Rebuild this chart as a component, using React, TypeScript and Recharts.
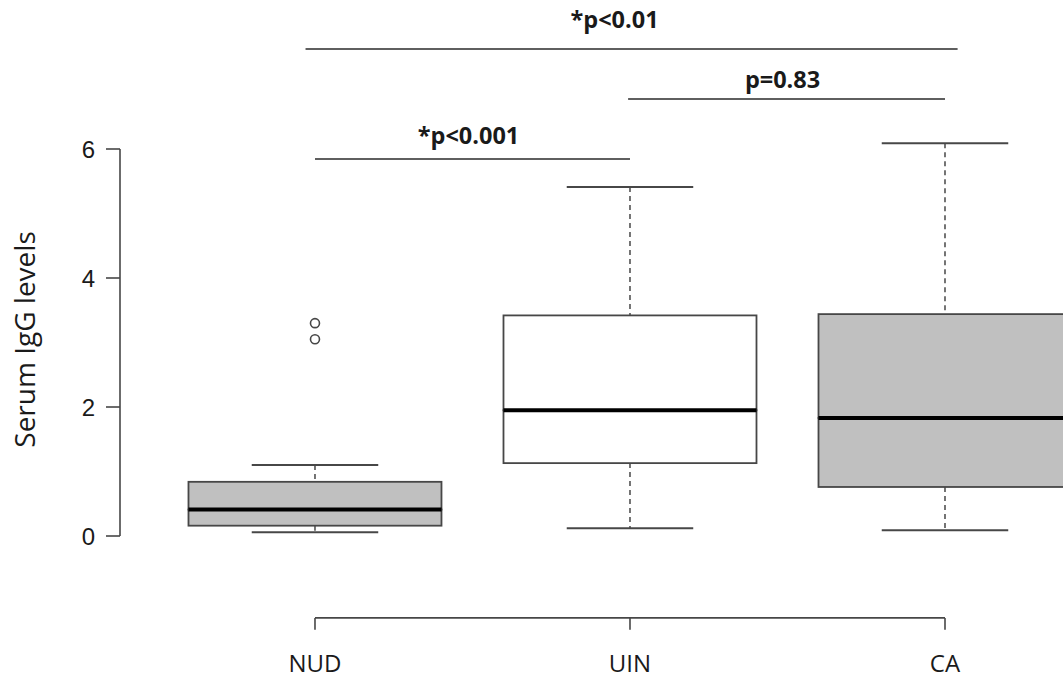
import { ComposedChart, Bar, Scatter, XAxis, YAxis, ReferenceLine } from 'recharts'

// groups and box statistics
const groups = ['NUD', 'UIN', 'CA']
const groupX = [1, 2, 3]
const lowWhisker = [0.06, 0.12, 0.09]
const q1 = [0.16, 1.13, 0.76]
const median = [0.41, 1.95, 1.83]
const q3 = [0.84, 3.42, 3.44]
const highWhisker = [1.1, 5.41, 6.09]
const boxFills = ['#c0c0c0', '#ffffff', '#c0c0c0']

// outliers
const outlierX = [1, 1]
const outlierY = [3.3, 3.05]

const yTicks = [0, 2, 4, 6]

// significance bars
const sigText = ['*p<0.01', 'p=0.83', '*p<0.001']
const sigFrom = [0.97, 1.994, 1.0]
const sigTo = [3.04, 3.0, 2.0]
const sigLevel = [7.55, 6.775, 5.845]

// axis geometry in data units
const X_MIN = 0.381
const X_MAX = 3.3746
const Y_MIN = -2.217
const Y_MAX = 8.31
const X_AXIS_LEVEL = -1.27
const X_TICK_END = -1.455

const STROKE = '#474747'
const TEXT = '#1a1a1a'

const boxData = groups.map((name, i) => ({
  name,
  x: groupX[i],
  base: lowWhisker[i],
  lowerWhisker: q1[i] - lowWhisker[i],
  lowerBox: median[i] - q1[i],
  upperBox: q3[i] - median[i],
  upperWhisker: highWhisker[i] - q3[i],
  boxFill: boxFills[i],
}))

const outlierData = outlierX.map((x, i) => ({ x, y: outlierY[i] }))

const Empty = () => <g />

const whiskerShape = (upper: boolean) => (props: any) => {
  const { x, y, width, height } = props
  const cx = x + width / 2
  const capY = upper ? y : y + height
  const capHalf = width / 4
  return (
    <g>
      <line x1={cx} x2={cx} y1={y} y2={y + height} stroke={STROKE} strokeWidth={1.5} strokeDasharray="5 4" />
      <line x1={cx - capHalf} x2={cx + capHalf} y1={capY} y2={capY} stroke={STROKE} strokeWidth={2} />
    </g>
  )
}

const LowerBox = (props: any) => {
  const { x, y, width, height, payload } = props
  return <rect x={x} y={y} width={width} height={height} fill={payload.boxFill} stroke={STROKE} strokeWidth={1.8} />
}

const UpperBox = (props: any) => {
  const { x, y, width, height, payload } = props
  return (
    <g>
      <rect x={x} y={y} width={width} height={height} fill={payload.boxFill} stroke={STROKE} strokeWidth={1.8} />
      <line x1={x} x2={x + width} y1={y + height} y2={y + height} stroke="#000" strokeWidth={4} />
    </g>
  )
}

const Outlier = (props: any) => (
  <circle cx={props.cx} cy={props.cy} r={4.5} fill="none" stroke={STROKE} strokeWidth={1.6} />
)

const GroupLabel = (props: any) => {
  const { viewBox, text } = props
  return (
    <text
      x={viewBox.x}
      y={viewBox.y + viewBox.height + 42}
      textAnchor="middle"
      fontFamily="Open Sans"
      fontSize={24}
      fill={TEXT}
    >
      {text}
    </text>
  )
}

const YLabel = (props: any) => {
  const { viewBox } = props
  const cy = viewBox.y + viewBox.height / 2
  return (
    <text
      x={24}
      y={cy}
      transform={`rotate(-90, 24, ${cy})`}
      textAnchor="middle"
      dominantBaseline="central"
      fontFamily="Open Sans"
      fontSize={28}
      fill={TEXT}
    >
      Serum IgG levels
    </text>
  )
}

const SigLabel = (props: any) => {
  const { viewBox, text, dx, gap } = props
  return (
    <text
      x={viewBox.x + viewBox.width / 2 + dx}
      y={viewBox.y - gap}
      textAnchor="middle"
      fontFamily="Open Sans"
      fontWeight={700}
      fontSize={23.5}
      fill={TEXT}
    >
      {text}
    </text>
  )
}

const sigDx = [-17, -4, -4]
const sigGap = [21, 11, 15]

export default function App() {
  return (
    <div style={{ position: 'absolute', left: 0, top: 0, width: 1063, height: 679, overflow: 'hidden', background: '#fff' }}>
      <ComposedChart width={1063} height={679} data={boxData} margin={{ top: 0, right: 0, bottom: 0, left: 0 }}>
        <XAxis dataKey="x" type="number" domain={[X_MIN, X_MAX]} allowDataOverflow ticks={groupX} hide />
        <YAxis
          type="number"
          domain={[Y_MIN, Y_MAX]}
          allowDataOverflow
          ticks={yTicks}
          width={120}
          axisLine={false}
          tickSize={14}
          tickMargin={11}
          tickLine={{ stroke: STROKE, strokeWidth: 1.6 }}
          tick={{ fontSize: 24, fill: TEXT, fontFamily: 'Liberation Sans' }}
          label={<YLabel />}
        />
        <Bar dataKey="base" stackId="box" barSize={253} shape={Empty} isAnimationActive={false} />
        <Bar dataKey="lowerWhisker" stackId="box" barSize={253} shape={whiskerShape(false)} isAnimationActive={false} />
        <Bar dataKey="lowerBox" stackId="box" barSize={253} shape={LowerBox} isAnimationActive={false} />
        <Bar dataKey="upperBox" stackId="box" barSize={253} shape={UpperBox} isAnimationActive={false} />
        <Bar dataKey="upperWhisker" stackId="box" barSize={253} shape={whiskerShape(true)} isAnimationActive={false} />
        <Scatter data={outlierData} dataKey="y" shape={Outlier} isAnimationActive={false} />
        {/* y axis line, R style: only over the tick range */}
        <ReferenceLine
          segment={[{ x: X_MIN, y: yTicks[0] }, { x: X_MIN, y: yTicks[yTicks.length - 1] }]}
          stroke={STROKE}
          strokeWidth={1.6}
          ifOverflow="visible"
        />
        {/* x axis line, ticks and group names */}
        <ReferenceLine
          segment={[{ x: groupX[0], y: X_AXIS_LEVEL }, { x: groupX[groupX.length - 1], y: X_AXIS_LEVEL }]}
          stroke={STROKE}
          strokeWidth={1.6}
          ifOverflow="visible"
        />
        {groupX.map((g, i) => (
          <ReferenceLine
            key={`xt-${g}`}
            segment={[{ x: g, y: X_AXIS_LEVEL }, { x: g, y: X_TICK_END }]}
            stroke={STROKE}
            strokeWidth={1.6}
            ifOverflow="visible"
            label={<GroupLabel text={groups[i]} />}
          />
        ))}
        {sigText.map((t, i) => (
          <ReferenceLine
            key={t}
            segment={[{ x: sigFrom[i], y: sigLevel[i] }, { x: sigTo[i], y: sigLevel[i] }]}
            stroke="#2a2a2a"
            strokeWidth={1.6}
            ifOverflow="visible"
            label={<SigLabel text={t} dx={sigDx[i]} gap={sigGap[i]} />}
          />
        ))}
      </ComposedChart>
    </div>
  )
}
